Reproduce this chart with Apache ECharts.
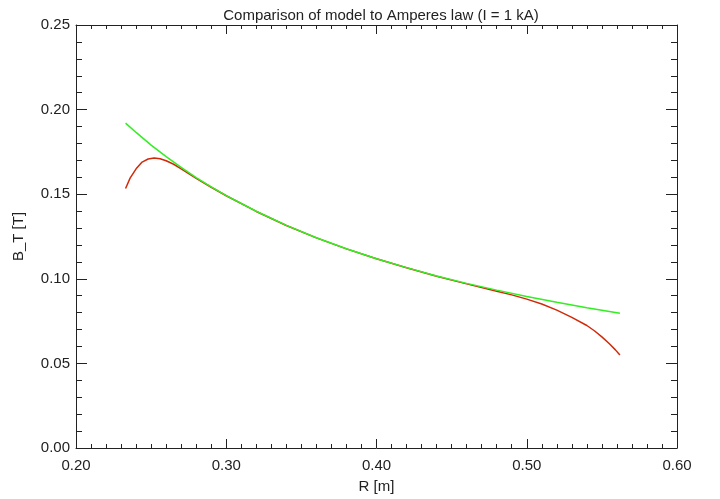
<!DOCTYPE html>
<html>
<head>
<meta charset="utf-8">
<script src="https://cdn.jsdelivr.net/npm/echarts@6/dist/echarts.min.js"></script>
<style>
  html, body { margin: 0; padding: 0; background: #fff; }
  #chart { width: 720px; height: 499px; }
</style>
</head>
<body>
<div id="chart"></div>
<script>
// ---- data ----
var ampereR = [0.233, 0.240, 0.250, 0.260, 0.270, 0.280, 0.290, 0.300, 0.320, 0.340, 0.360,
               0.380, 0.400, 0.420, 0.440, 0.460, 0.480, 0.500, 0.520, 0.540, 0.562];
var ampereB = [0.1920, 0.1865, 0.1790, 0.1722, 0.1658, 0.1598, 0.1543, 0.1492, 0.1399, 0.1316, 0.1243,
               0.1178, 0.1119, 0.1066, 0.1017, 0.0973, 0.0933, 0.0895, 0.0861, 0.0829, 0.0796];

var modelR = [0.233, 0.236, 0.240, 0.244, 0.248, 0.252, 0.256, 0.260, 0.265, 0.270, 0.280,
              0.290, 0.300, 0.320, 0.340, 0.360, 0.380, 0.400, 0.420, 0.440, 0.460,
              0.480, 0.490, 0.500, 0.510, 0.520, 0.530, 0.540, 0.545, 0.550, 0.555, 0.559, 0.562];
var modelB = [0.1534, 0.1595, 0.1650, 0.1690, 0.1708, 0.1714, 0.1710, 0.1698, 0.1677, 0.1650, 0.1594,
              0.1541, 0.1491, 0.1398, 0.1315, 0.1242, 0.1177, 0.1118, 0.1065, 0.1015, 0.0970,
              0.0927, 0.0905, 0.0880, 0.0851, 0.0815, 0.0772, 0.0724, 0.0693, 0.0657, 0.0616, 0.0580, 0.0549];

function pairs(xs, ys) {
    var out = [];
    for (var i = 0; i < xs.length; i++) out.push([xs[i], ys[i]]);
    return out;
}

var FONT = 'Liberation Sans';
var INK = '#222';

var chart = echarts.init(document.getElementById('chart'), null, { renderer: 'canvas' });

function xAx(pos, labels) {
    return {
        type: 'value', position: pos, min: 0.2, max: 0.6, interval: 0.1,
        name: labels ? 'R [m]' : '', nameLocation: 'middle', nameGap: 31,
        nameTextStyle: { fontFamily: FONT, fontSize: 15, color: INK },
        axisLine: { show: true, onZero: false, lineStyle: { color: INK, width: 1 } },
        axisTick: { show: true, inside: true, length: 9, lineStyle: { color: INK } },
        minorTick: { show: true, splitNumber: 10, length: 4, lineStyle: { color: INK } },
        axisLabel: { show: labels, margin: 10, fontFamily: FONT, fontSize: 15, color: INK,
                     formatter: function (v) { return v.toFixed(2); } },
        splitLine: { show: false }
    };
}
function yAx(pos, labels) {
    return {
        type: 'value', position: pos, min: 0, max: 0.25, interval: 0.05,
        name: labels ? 'B_T [T]' : '', nameLocation: 'middle', nameGap: 50,
        nameTextStyle: { fontFamily: FONT, fontSize: 15, color: INK },
        axisLine: { show: true, onZero: false, lineStyle: { color: INK, width: 1 } },
        axisTick: { show: true, inside: true, length: 11, lineStyle: { color: INK } },
        minorTick: { show: true, splitNumber: 5, length: 6, lineStyle: { color: INK } },
        axisLabel: { show: labels, margin: 6, fontFamily: FONT, fontSize: 15, color: INK,
                     formatter: function (v) { return v.toFixed(2); } },
        splitLine: { show: false }
    };
}

chart.setOption({
    backgroundColor: '#fff',
    animation: false,
    title: {
        text: 'Comparison of model to Amperes law (I = 1 kA)',
        left: 376, top: 3, textAlign: 'center',
        textStyle: { fontFamily: FONT, fontSize: 15, fontWeight: 'normal', color: INK }
    },
    grid: { left: 76, right: 43, top: 25, bottom: 47 },
    xAxis: [xAx('bottom', true), xAx('top', false)],
    yAxis: [yAx('left', true), yAx('right', false)],
    series: [
        {
            name: 'model', type: 'line', xAxisIndex: 0, yAxisIndex: 0,
            data: pairs(modelR, modelB), showSymbol: false, smooth: false,
            lineStyle: { color: '#d02a0a', width: 1.5 }
        },
        {
            name: 'Ampere', type: 'line', xAxisIndex: 0, yAxisIndex: 0,
            data: pairs(ampereR, ampereB), showSymbol: false, smooth: false,
            lineStyle: { color: '#33ee22', width: 1.5 }
        }
    ]
});
</script>
</body>
</html>
